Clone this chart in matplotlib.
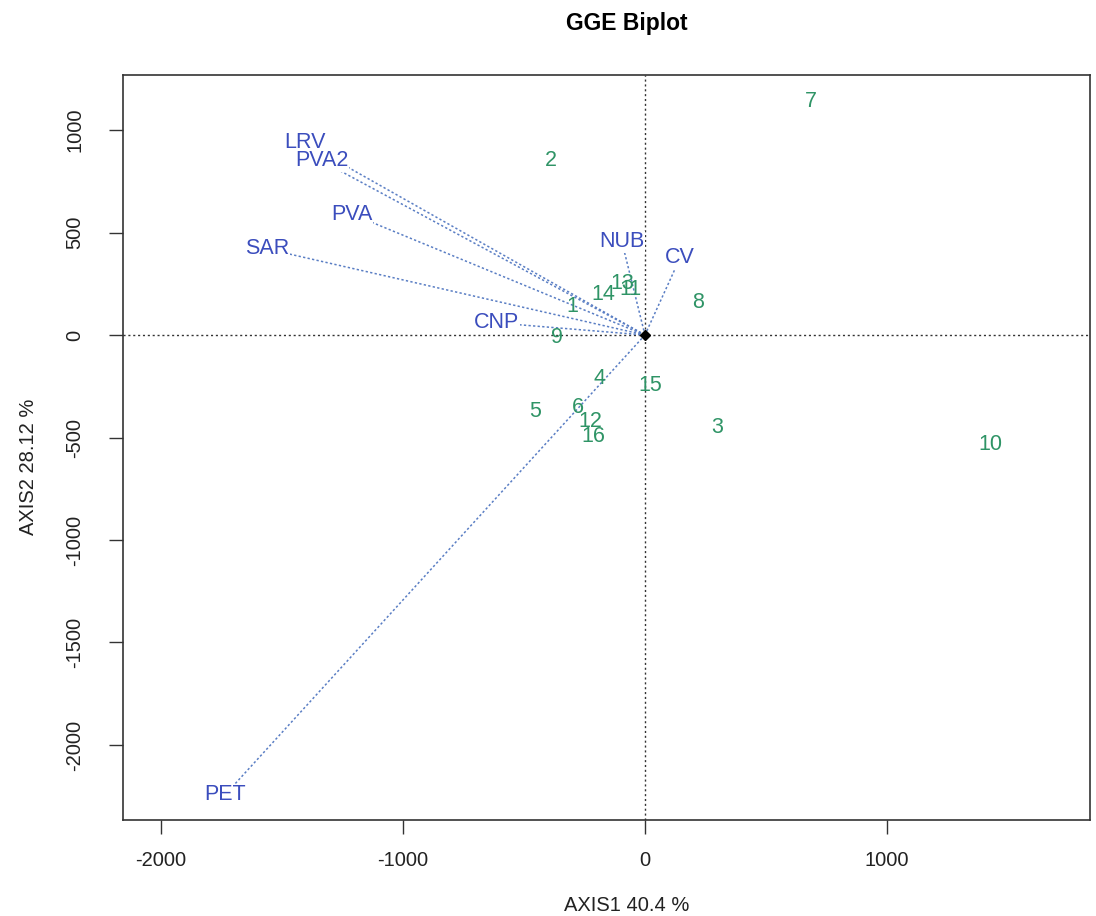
import matplotlib
matplotlib.use("Agg")
import matplotlib.pyplot as plt

plt.rcParams['font.family'] = ['Liberation Sans', 'DejaVu Sans']

# Genotype scores (green labels)
gen_labels = ['1', '2', '3', '4', '5', '6', '7', '8', '9', '10', '11', '12', '13', '14', '15', '16']
gen_x = [-302, -388, 298, -186, -455, -277, 686, 219, -364, 1426, -62, -227, -95, -174, 21, -215]
gen_y = [137, 849, -449, -210, -371, -356, 1137, 161, -10, -532, 220, -424, 249, 200, -244, -493]

# Environment / trait vectors (blue labels)
env_labels = ['LRV', 'PVA2', 'PVA', 'SAR', 'CNP', 'NUB', 'CV', 'PET']
env_x = [-1405, -1335, -1211, -1562, -612, -95, 145, -1736]
env_y = [937, 849, 590, 420, 59, 454, 376, -2244]

title = 'GGE Biplot'
xlabel = 'AXIS1 40.4 %'
ylabel = 'AXIS2 28.12 %'
xticks = [-2000, -1000, 0, 1000]
yticks = [-2000, -1500, -1000, -500, 0, 500, 1000]

gen_color = '#2f9466'
env_color = '#3b4dbd'
vec_color = '#5a7ec4'

fig = plt.figure(figsize=(10.96, 9.16), dpi=100)
ax = fig.add_axes([0.1122, 0.1048, 0.8823, 0.8132])

ax.set_xlim(-2157, 1839)
ax.set_ylim(-2366, 1268)

ax.axhline(0, color='#333333', ls=(0, (1.5, 2)), lw=1.0, zorder=1)
ax.axvline(0, color='#333333', ls=(0, (1.5, 2)), lw=1.0, zorder=1)

for ex, ey in zip(env_x, env_y):
    ax.plot([0, ex], [0, ey], color=vec_color, ls=(0, (1.5, 1.5)), lw=1.1, zorder=2)

ax.plot([0], [0], marker='D', color='black', ms=5, zorder=5)

for lab, ex, ey in zip(env_labels, env_x, env_y):
    ax.text(ex, ey, lab, color=env_color, fontsize=15.5, ha='center', va='center', zorder=4,
            bbox=dict(facecolor='white', edgecolor='none', pad=0.5))

for lab, gx, gy in zip(gen_labels, gen_x, gen_y):
    ax.text(gx, gy, lab, color=gen_color, fontsize=15.5, ha='center', va='center', zorder=3)

ax.set_xticks(xticks)
ax.set_yticks(yticks)
ax.set_xticklabels([str(t) for t in xticks], fontsize=14.5, color='#222222')
ax.set_yticklabels([str(t) for t in yticks], fontsize=14.5, color='#222222', rotation=90, va='center')
ax.tick_params(axis='x', length=10, width=1.0, color='#333333', pad=12)
ax.tick_params(axis='y', length=10, width=1.0, color='#333333', pad=18)

for s in ax.spines.values():
    s.set_color('#333333')
    s.set_linewidth(1.2)

fig.text(0.5715, 0.974, title, fontsize=16.5, fontweight='bold', ha='center', va='center')
fig.text(0.5715, 0.012, xlabel, fontsize=14.5, ha='center', va='center', color='#222222')
fig.text(0.026, 0.49, ylabel, fontsize=14.5, ha='center', va='center', rotation=90, color='#222222')

fig.savefig('out.png', dpi=100)
